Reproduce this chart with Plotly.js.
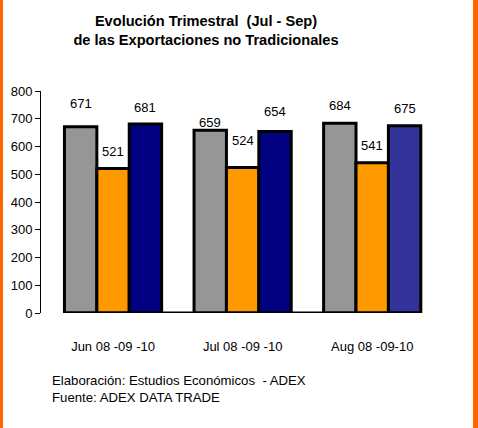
<!DOCTYPE html>
<html>
<head>
<meta charset="utf-8">
<script src="https://cdn.plot.ly/plotly-3.0.1.min.js"></script>
<style>
  html, body { margin: 0; padding: 0; background: #fff; }
  #wrap { position: relative; width: 478px; height: 428px; overflow: hidden; }
  #chart { position: absolute; left: 0; top: 0; width: 478px; height: 428px; }
  .edge { position: absolute; top: 0; height: 428px; background: #FF6600; }
</style>
</head>
<body>
<div id="wrap">
  <div id="chart"></div>
  <div class="edge" style="left:0;width:3px;"></div>
  <div class="edge" style="left:473px;width:5px;"></div>
</div>
<script>
const categories = ["Jun 08 -09 -10", "Jul 08 -09 -10", "Aug 08 -09-10"];
const seriesNames = ["2008", "2009", "2010"];
const values2008 = [671, 659, 684];
const values2009 = [521, 524, 541];
const values2010 = [681, 654, 675];
const yTicks = [0, 100, 200, 300, 400, 500, 600, 700, 800];

// styling
const colors2008 = ["#969696", "#969696", "#969696"];
const colors2009 = ["#FF9900", "#FF9900", "#FF9900"];
const colors2010 = ["#000080", "#000080", "#333399"];
const labelShift = [[23, 17, 17], [8, 27, 20], [18, 17, 17]]; // px above bar top, per category/series
const FONT = "Arial, 'Liberation Sans', sans-serif";

const series = [values2008, values2009, values2010];
const colorSets = [colors2008, colors2009, colors2010];
const traces = series.map((vals, s) => ({
  type: "bar",
  name: seriesNames[s],
  x: categories,
  y: vals,
  marker: { color: colorSets[s], line: { color: "#000", width: 3 } },
  showlegend: false,
  hoverinfo: "none"
}));

const bargap = 0.25;
const barW = (1 - bargap) / series.length;
const annotations = [];
series.forEach((vals, s) => {
  vals.forEach((v, c) => {
    annotations.push({
      xref: "x", yref: "y",
      x: c + (s - (series.length - 1) / 2) * barW,
      y: v,
      text: String(v),
      showarrow: false,
      yanchor: "middle",
      yshift: labelShift[c][s],
      font: { family: FONT, size: 13, color: "#000" }
    });
  });
});
annotations.push({
  xref: "paper", yref: "paper", x: 0.023, y: -0.302, xanchor: "left", yanchor: "middle",
  text: "Elaboración: Estudios Económicos \u00a0- ADEX", showarrow: false,
  font: { family: FONT, size: 13.2, color: "#000" }
});
annotations.push({
  xref: "paper", yref: "paper", x: 0.023, y: -0.382, xanchor: "left", yanchor: "middle",
  text: "Fuente: ADEX DATA TRADE", showarrow: false,
  font: { family: FONT, size: 13.2, color: "#000" }
});

const layout = {
  width: 478, height: 428,
  margin: { l: 41, r: 41, t: 91, b: 115 },
  paper_bgcolor: "rgba(0,0,0,0)",
  plot_bgcolor: "#fff",
  barmode: "group",
  bargap: bargap,
  bargroupgap: 0,
  title: {
    text: "<b>Evolución Trimestral \u00a0(Jul - Sep)</b><br><b>de las Exportaciones no Tradicionales</b>",
    font: { family: FONT, size: 14.6, color: "#000" },
    xref: "container", yref: "container",
    x: 206 / 478, xanchor: "center",
    y: 1 - 26.4 / 428, yanchor: "middle"
  },
  xaxis: {
    type: "category",
    range: [-0.556, 2.5],
    showline: false, showgrid: false, zeroline: false,
    ticks: "", ticklabelstandoff: 24,
    tickfont: { family: FONT, size: 13, color: "#000" }
  },
  yaxis: {
    range: [0, 800],
    tickvals: yTicks,
    showline: true, linecolor: "#000", linewidth: 1,
    showgrid: false, zeroline: false,
    ticks: "outside", ticklen: 5, tickwidth: 1, tickcolor: "#000",
    tickfont: { family: FONT, size: 13, color: "#000" }
  },
  shapes: [{
    type: "line", xref: "x", yref: "y",
    x0: -0.5 + bargap / 2, x1: categories.length - 0.5 - bargap / 2, y0: 0, y1: 0,
    line: { color: "#000", width: 3 }
  }],
  annotations: annotations
};

Plotly.newPlot("chart", traces, layout, { staticPlot: true, displayModeBar: false });
</script>
</body>
</html>
